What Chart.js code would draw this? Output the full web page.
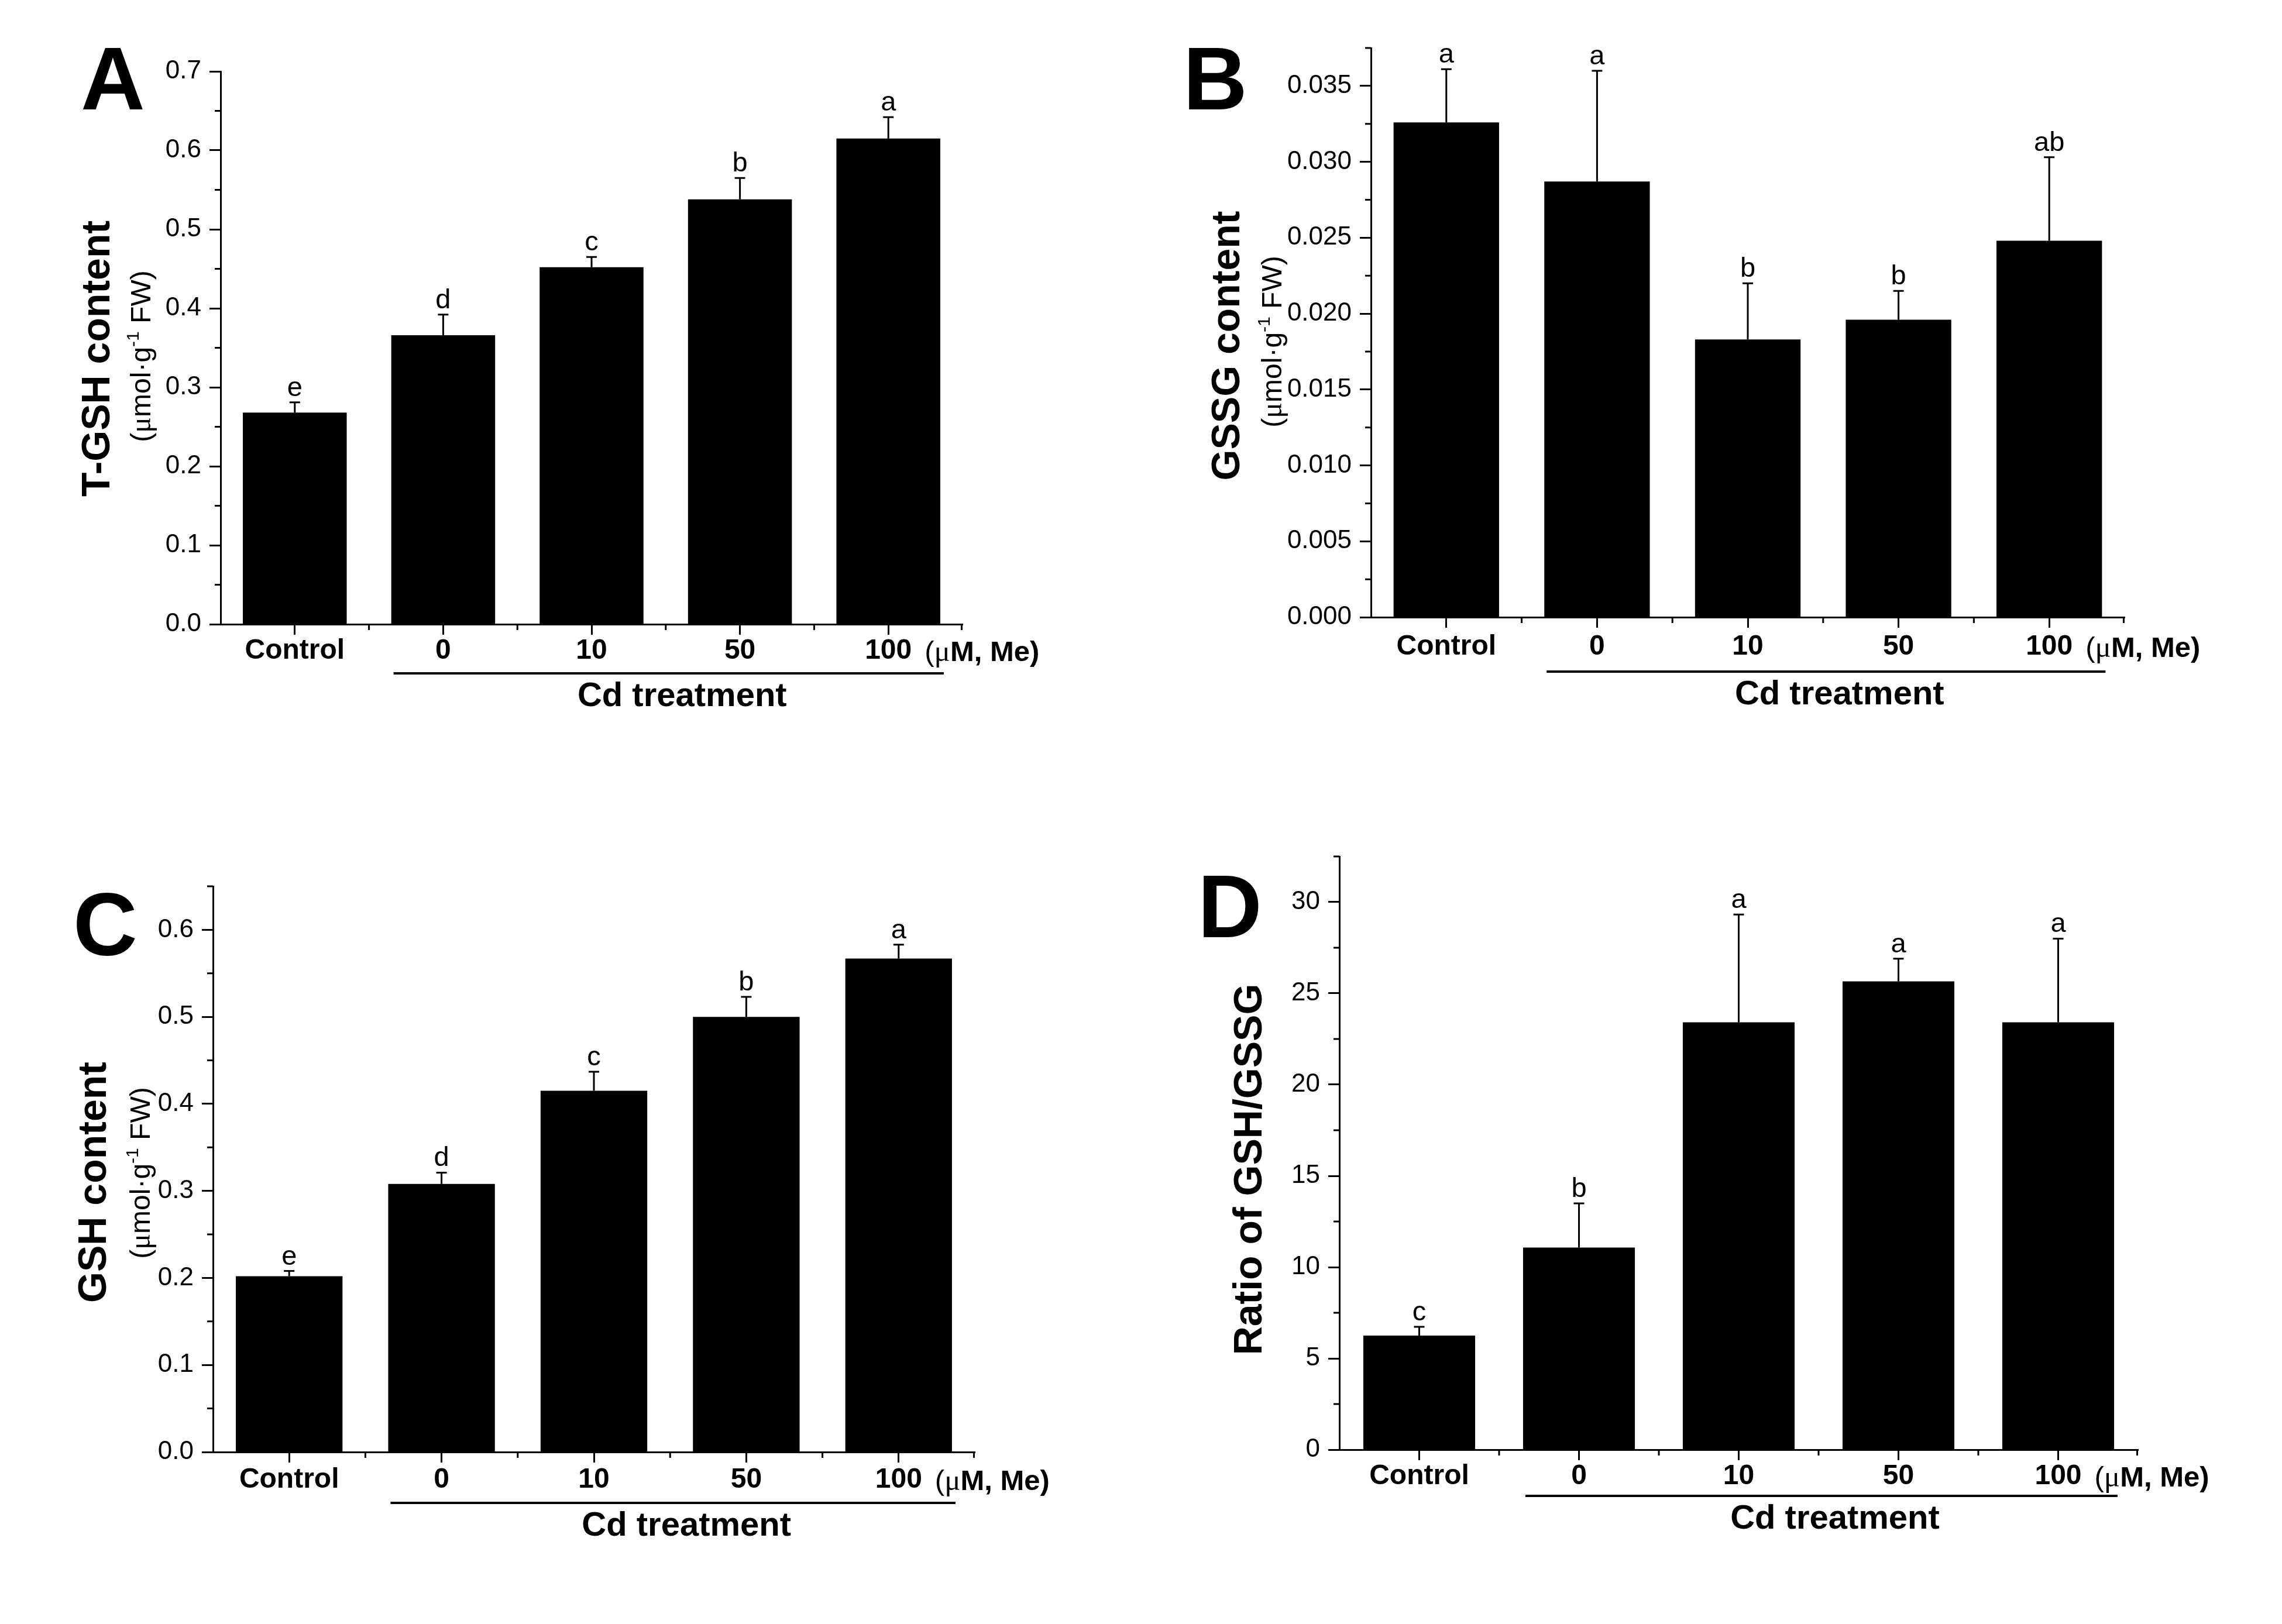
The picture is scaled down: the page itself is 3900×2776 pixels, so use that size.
<!DOCTYPE html>
<html>
<head>
<meta charset="utf-8">
<script src="https://cdn.jsdelivr.net/npm/chart.js@4.4.1/dist/chart.umd.min.js"></script>
<style>
  html, body { margin: 0; padding: 0; background: #fff; }
  #wrap { position: relative; width: 3900px; height: 2776px; background: #fff; overflow: hidden; }
  canvas { position: absolute; }
</style>
</head>
<body>
<div id="wrap">
  <canvas id="cA" width="1950" height="1388" style="left:0px;top:0px"></canvas>
  <canvas id="cB" width="1950" height="1388" style="left:1950px;top:0px"></canvas>
  <canvas id="cC" width="1950" height="1388" style="left:0px;top:1388px"></canvas>
  <canvas id="cD" width="1950" height="1388" style="left:1950px;top:1388px"></canvas>
</div>
<script>
// ---------------- data ----------------
const categories = ['Control', '0', '10', '50', '100'];

const tgshValues  = [0.268, 0.366, 0.452, 0.538, 0.615];
const tgshErrors  = [0.013, 0.026, 0.013, 0.027, 0.027];
const tgshLetters = ['e', 'd', 'c', 'b', 'a'];

const gssgValues  = [0.0326, 0.0287, 0.0183, 0.0196, 0.0248];
const gssgErrors  = [0.0035, 0.0073, 0.0037, 0.0019, 0.0055];
const gssgLetters = ['a', 'a', 'b', 'b', 'ab'];

const gshValues   = [0.202, 0.308, 0.415, 0.500, 0.567];
const gshErrors   = [0.006, 0.013, 0.022, 0.023, 0.016];
const gshLetters  = ['e', 'd', 'c', 'b', 'a'];

const ratioValues  = [6.25, 11.07, 23.41, 25.66, 23.41];
const ratioErrors  = [0.48, 2.42, 5.91, 1.24, 4.59];
const ratioLetters = ['c', 'b', 'a', 'a', 'a'];

// y-axis tick definitions: [max, major step, decimals]
const tgshTicks  = [0.7, 0.1, 1];
const gssgTicks  = [0.0375, 0.005, 3];
const gshTicks   = [0.65, 0.1, 1];
const ratioTicks = [32.5, 5, 0];

// ---------------- style / layout ----------------
const SANS = '"Liberation Sans", Arial, Helvetica, sans-serif';
const SERIF = '"Liberation Serif", "Times New Roman", serif';
const CW = 1950, CH = 1388, YW = 200, XH = 120;

const panels = [
  { id: 'cA', values: tgshValues, errors: tgshErrors, letters: tgshLetters, ticks: tgshTicks,
    plotLeft: 377, plotTop: 122, plotRight: 1645, plotBottom: 1067, xPad: -1,
    panel: 'A', panelX: 193, panelY: 187,
    title: 'T-GSH content', titleX: 168, titleY: 613, sub: true, subX: 241, subY: 609, lineY: 1151 },
  { id: 'cB', values: gssgValues, errors: gssgErrors, letters: gssgLetters, ticks: gssgTicks,
    plotLeft: 393, plotTop: 82, plotRight: 1681, plotBottom: 1055, xPad: 4,
    panel: 'B', panelX: 127, panelY: 187,
    title: 'GSSG content', titleX: 149, titleY: 591, sub: true, subX: 224, subY: 584, lineY: 1148 },
  { id: 'cC', values: gshValues, errors: gshErrors, letters: gshLetters, ticks: gshTicks,
    plotLeft: 364, plotTop: 127, plotRight: 1666, plotBottom: 1094, xPad: 1,
    panel: 'C', panelX: 180, panelY: 245,
    title: 'GSH content', titleX: 162, titleY: 633, sub: true, subX: 240, subY: 617, lineY: 1181 },
  { id: 'cD', values: ratioValues, errors: ratioErrors, letters: ratioLetters, ticks: ratioTicks,
    plotLeft: 339, plotTop: 76, plotRight: 1704, plotBottom: 1090, xPad: -1,
    panel: 'D', panelX: 152, panelY: 214,
    title: 'Ratio of GSH/GSSG', titleX: 187, titleY: 611, sub: false, lineY: 1169 }
];

function drawParts(ctx, x, y, parts, align) {
  // parts: [{t, f, dy}] drawn along +x with alphabetic baseline at y
  let total = 0;
  parts.forEach(p => { ctx.font = p.f; p.w = ctx.measureText(p.t).width; total += p.w; });
  let cx = align === 'center' ? x - total / 2 : x;
  ctx.textAlign = 'left';
  ctx.textBaseline = 'alphabetic';
  parts.forEach(p => { ctx.font = p.f; ctx.fillText(p.t, cx, y + (p.dy || 0)); cx += p.w; });
  return total;
}

function annotPlugin(p) {
  return {
    id: 'annot_' + p.id,
    afterDatasetsDraw(chart) {
      const ctx = chart.ctx;
      const ys = chart.scales.y;
      const meta = chart.getDatasetMeta(0);
      ctx.save();
      ctx.strokeStyle = '#000';
      ctx.fillStyle = '#000';
      ctx.lineWidth = 3;
      ctx.lineCap = 'butt';
      meta.data.forEach((bar, i) => {
        const v = p.values[i], e = p.errors[i];
        const y0 = ys.getPixelForValue(v);
        const y1 = ys.getPixelForValue(v + e);
        ctx.beginPath();
        ctx.moveTo(bar.x, y0);
        ctx.lineTo(bar.x, y1);
        ctx.moveTo(bar.x - 9, y1);
        ctx.lineTo(bar.x + 9, y1);
        ctx.stroke();
        ctx.font = '47px ' + SANS;
        ctx.textAlign = 'center';
        ctx.textBaseline = 'alphabetic';
        ctx.fillText(p.letters[i], bar.x, y1 - 11);
      });
      ctx.restore();
    },
    afterDraw(chart) {
      const ctx = chart.ctx;
      const ys = chart.scales.y, xs = chart.scales.x;
      const area = chart.chartArea;
      const meta = chart.getDatasetMeta(0);
      ctx.save();
      ctx.strokeStyle = '#000';
      ctx.fillStyle = '#000';
      ctx.lineWidth = 3;
      // minor y ticks
      const [max, step] = p.ticks;
      ctx.beginPath();
      for (let k = 0; ; k++) {
        const v = step / 2 + k * step;
        if (v > max + step * 1e-6) break;
        const y = ys.getPixelForValue(v);
        ctx.moveTo(area.left - 10, y);
        ctx.lineTo(area.left, y);
      }
      // minor x ticks at category boundaries and right end
      for (let i = 0; i < categories.length - 1; i++) {
        const x = (xs.getPixelForValue(i) + xs.getPixelForValue(i + 1)) / 2;
        ctx.moveTo(x, area.bottom);
        ctx.lineTo(x, area.bottom + 10);
      }
      ctx.moveTo(area.right - 1.5, area.bottom);
      ctx.lineTo(area.right - 1.5, area.bottom + 10);
      ctx.stroke();

      // panel letter
      ctx.font = 'bold 152px ' + SANS;
      ctx.textAlign = 'center';
      ctx.textBaseline = 'alphabetic';
      ctx.fillText(p.panel, p.panelX, p.panelY);

      // y title
      ctx.save();
      ctx.translate(p.titleX, p.titleY);
      ctx.rotate(-Math.PI / 2);
      ctx.font = 'bold 68px ' + SANS;
      ctx.textAlign = 'center';
      ctx.textBaseline = 'middle';
      ctx.fillText(p.title, 0, 0);
      ctx.restore();

      if (p.sub) {
        ctx.save();
        ctx.translate(p.subX, p.subY);
        ctx.rotate(-Math.PI / 2);
        const f = '48px ' + SANS;
        drawParts(ctx, 0, 16, [
          { t: '(', f: f },
          { t: 'μ', f: '50px ' + SERIF },
          { t: 'mol·g', f: f },
          { t: '-1', f: '30px ' + SANS, dy: -20 },
          { t: ' FW)', f: f }
        ], 'center');
        ctx.restore();
      }

      // units after last category label
      const lastX = xs.getPixelForValue(categories.length - 1);
      ctx.font = 'bold 48px ' + SANS;
      const lw = ctx.measureText(categories[categories.length - 1]).width;
      const labelMid = area.bottom + 18 + p.xPad + 28.8;
      drawParts(ctx, lastX + lw / 2 + 22, labelMid + 17, [
        { t: '(', f: '49px ' + SANS },
        { t: 'μ', f: '51px ' + SERIF },
        { t: 'M, Me)', f: 'bold 49px ' + SANS }
      ], 'left');

      // treatment underline
      const b1 = meta.data[1], b4 = meta.data[4];
      const x1 = b1.x - b1.width / 2 + 4;
      const x2 = b4.x + b4.width / 2 + 6;
      ctx.lineWidth = 4;
      ctx.beginPath();
      ctx.moveTo(x1, p.lineY);
      ctx.lineTo(x2, p.lineY);
      ctx.stroke();
      ctx.font = 'bold 58px ' + SANS;
      ctx.textAlign = 'center';
      ctx.textBaseline = 'middle';
      ctx.fillText('Cd treatment', (x1 + x2) / 2 + 23, p.lineY + 40);
      ctx.restore();
    }
  };
}

function makeChart(p) {
  const [max, step, dec] = p.ticks;
  return new Chart(document.getElementById(p.id), {
    type: 'bar',
    data: {
      labels: categories,
      datasets: [{
        data: p.values,
        backgroundColor: '#000',
        borderWidth: 0,
        barPercentage: 0.7,
        categoryPercentage: 1.0
      }]
    },
    options: {
      responsive: false,
      animation: false,
      devicePixelRatio: 1,
      layout: {
        padding: {
          left: p.plotLeft - YW,
          top: p.plotTop,
          right: CW - p.plotRight,
          bottom: CH - p.plotBottom - XH
        }
      },
      plugins: { legend: { display: false }, tooltip: { enabled: false }, title: { display: false } },
      scales: {
        x: {
          type: 'category',
          offset: true,
          grid: { display: true, drawOnChartArea: false, drawTicks: true, tickLength: 18, tickWidth: 3, tickColor: '#000', offset: false },
          border: { display: true, color: '#000', width: 3 },
          ticks: { color: '#000', font: { family: SANS, size: 48, weight: 'bold', lineHeight: 1.2 }, padding: p.xPad, maxRotation: 0, minRotation: 0, autoSkip: false },
          afterFit: s => { s.height = XH; }
        },
        y: {
          min: 0,
          max: max,
          grid: { display: true, drawOnChartArea: false, drawTicks: true, tickLength: 19, tickWidth: 3, tickColor: '#000' },
          border: { display: true, color: '#000', width: 3 },
          ticks: {
            stepSize: step,
            includeBounds: false,
            color: '#000',
            font: { family: SANS, size: 44, lineHeight: 1.2 },
            padding: 14,
            callback: v => Number(v).toFixed(dec)
          },
          afterFit: s => { s.width = YW; }
        }
      }
    },
    plugins: [annotPlugin(p)]
  });
}

panels.forEach(makeChart);
</script>
</body>
</html>
